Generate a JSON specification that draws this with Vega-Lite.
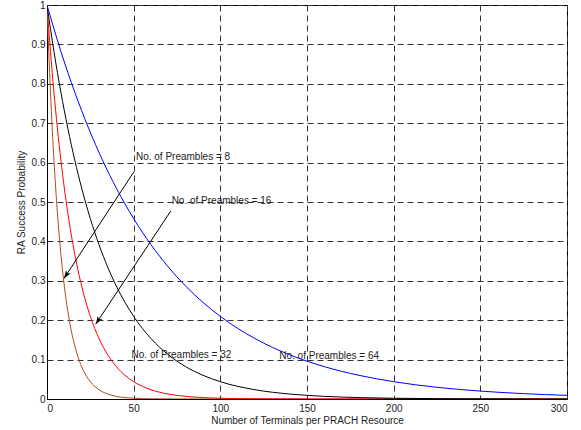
{
  "$schema": "https://vega.github.io/schema/vega-lite/v6.json",
  "width": 520,
  "height": 394,
  "autosize": {"type": "none"},
  "padding": {"left": 47, "top": 5, "right": 14, "bottom": 31},
  "background": "white",
  "config": {
    "font": "Liberation Sans",
    "view": {"stroke": "black", "strokeWidth": 1},
    "axis": {
      "labelFont": "Liberation Sans",
      "titleFont": "Liberation Sans",
      "labelFontSize": 10,
      "titleFontSize": 10,
      "titleFontWeight": "normal",
      "labelColor": "#222",
      "titleColor": "#222",
      "domainColor": "black",
      "ticks": false,
      "grid": true,
      "gridColor": "#333",
      "gridDash": [6, 4],
      "gridWidth": 1,
      "gridOpacity": 1,
      "labelOverlap": false
    }
  },
  "datasets": {
    "curves": [
      {"n": 0, "p": 1, "M": 8}, {"n": 1, "p": 0.8825, "M": 8}, {"n": 2, "p": 0.7788, "M": 8}, {"n": 3, "p": 0.6873, "M": 8},
      {"n": 4, "p": 0.6065, "M": 8}, {"n": 6, "p": 0.4724, "M": 8}, {"n": 8, "p": 0.3679, "M": 8}, {"n": 10, "p": 0.2865, "M": 8},
      {"n": 12, "p": 0.2231, "M": 8}, {"n": 15, "p": 0.1534, "M": 8}, {"n": 18, "p": 0.1054, "M": 8}, {"n": 21, "p": 0.0724, "M": 8},
      {"n": 25, "p": 0.0439, "M": 8}, {"n": 30, "p": 0.0235, "M": 8}, {"n": 35, "p": 0.0126, "M": 8}, {"n": 40, "p": 0.0067, "M": 8},
      {"n": 50, "p": 0.0019, "M": 8}, {"n": 60, "p": 0.00055, "M": 8}, {"n": 80, "p": 0.00005, "M": 8}, {"n": 100, "p": 0, "M": 8},
      {"n": 200, "p": 0, "M": 8}, {"n": 300, "p": 0, "M": 8},

      {"n": 0, "p": 1, "M": 16}, {"n": 2, "p": 0.8825, "M": 16}, {"n": 4, "p": 0.7788, "M": 16}, {"n": 6, "p": 0.6873, "M": 16},
      {"n": 8, "p": 0.6065, "M": 16}, {"n": 10, "p": 0.5353, "M": 16}, {"n": 12, "p": 0.4724, "M": 16}, {"n": 15, "p": 0.3916, "M": 16},
      {"n": 18, "p": 0.3247, "M": 16}, {"n": 21, "p": 0.2691, "M": 16}, {"n": 25, "p": 0.2096, "M": 16}, {"n": 30, "p": 0.1534, "M": 16},
      {"n": 35, "p": 0.1122, "M": 16}, {"n": 40, "p": 0.0821, "M": 16}, {"n": 45, "p": 0.0601, "M": 16}, {"n": 50, "p": 0.0439, "M": 16},
      {"n": 60, "p": 0.0235, "M": 16}, {"n": 70, "p": 0.0126, "M": 16}, {"n": 80, "p": 0.0067, "M": 16}, {"n": 90, "p": 0.0036, "M": 16},
      {"n": 100, "p": 0.0019, "M": 16}, {"n": 120, "p": 0.00055, "M": 16}, {"n": 150, "p": 0.00008, "M": 16}, {"n": 200, "p": 0, "M": 16},
      {"n": 300, "p": 0, "M": 16},

      {"n": 0, "p": 1, "M": 32}, {"n": 4, "p": 0.8825, "M": 32}, {"n": 8, "p": 0.7788, "M": 32}, {"n": 12, "p": 0.6873, "M": 32},
      {"n": 16, "p": 0.6065, "M": 32}, {"n": 20, "p": 0.5353, "M": 32}, {"n": 25, "p": 0.4578, "M": 32}, {"n": 30, "p": 0.3916, "M": 32},
      {"n": 35, "p": 0.335, "M": 32}, {"n": 40, "p": 0.2865, "M": 32}, {"n": 45, "p": 0.2451, "M": 32}, {"n": 50, "p": 0.2096, "M": 32},
      {"n": 60, "p": 0.1534, "M": 32}, {"n": 70, "p": 0.1122, "M": 32}, {"n": 80, "p": 0.0821, "M": 32}, {"n": 90, "p": 0.0601, "M": 32},
      {"n": 100, "p": 0.0439, "M": 32}, {"n": 120, "p": 0.0235, "M": 32}, {"n": 140, "p": 0.0126, "M": 32}, {"n": 160, "p": 0.0067, "M": 32},
      {"n": 180, "p": 0.0036, "M": 32}, {"n": 200, "p": 0.0019, "M": 32}, {"n": 250, "p": 0.0004, "M": 32}, {"n": 300, "p": 0.0001, "M": 32},

      {"n": 0, "p": 1, "M": 64}, {"n": 8, "p": 0.8825, "M": 64}, {"n": 16, "p": 0.7788, "M": 64}, {"n": 24, "p": 0.6873, "M": 64},
      {"n": 32, "p": 0.6065, "M": 64}, {"n": 40, "p": 0.5353, "M": 64}, {"n": 50, "p": 0.4578, "M": 64}, {"n": 60, "p": 0.3916, "M": 64},
      {"n": 70, "p": 0.335, "M": 64}, {"n": 80, "p": 0.2865, "M": 64}, {"n": 90, "p": 0.2451, "M": 64}, {"n": 100, "p": 0.2096, "M": 64},
      {"n": 120, "p": 0.1534, "M": 64}, {"n": 140, "p": 0.1122, "M": 64}, {"n": 160, "p": 0.0821, "M": 64}, {"n": 180, "p": 0.0601, "M": 64},
      {"n": 200, "p": 0.0439, "M": 64}, {"n": 225, "p": 0.0297, "M": 64}, {"n": 250, "p": 0.0201, "M": 64}, {"n": 275, "p": 0.0136, "M": 64},
      {"n": 300, "p": 0.0092, "M": 64}
    ],
    "arrows": [
      {"x0": 50.2, "y0": 0.577, "x1": 9.8, "y1": 0.306},
      {"x0": 71.4, "y0": 0.477, "x1": 28.1, "y1": 0.19}
    ],
    "labels": [
      {"x": 51.3, "y": 0.613, "text": "No. of Preambles = 8"},
      {"x": 71.9, "y": 0.503, "text": "No. of Preambles = 16"},
      {"x": 48.8, "y": 0.112, "text": "No. of Preambles = 32"},
      {"x": 134.0, "y": 0.108, "text": "No. of Preambles = 64"}
    ]
  },
  "layer": [
    {
      "data": {"name": "curves"},
      "mark": {"type": "line", "strokeWidth": 1, "interpolate": "monotone", "clip": true},
      "encoding": {
        "x": {
          "field": "n", "type": "quantitative",
          "scale": {"domain": [0, 300], "nice": false},
          "axis": {"values": [0, 50, 100, 150, 200, 250, 300], "title": "Number of Terminals per PRACH Resource", "labelPadding": 4, "titlePadding": 2, "format": "d"}
        },
        "y": {
          "field": "p", "type": "quantitative",
          "scale": {"domain": [0, 1], "nice": false},
          "axis": {"values": [0, 0.1, 0.2, 0.3, 0.4, 0.5, 0.6, 0.7, 0.8, 0.9, 1], "format": "~g", "title": "RA Success Probability", "labelPadding": 2, "titlePadding": 5}
        },
        "color": {
          "field": "M", "type": "nominal",
          "scale": {"domain": [8, 16, 32, 64], "range": ["#b04c14", "#ff0000", "#000000", "#0000ff"]},
          "legend": null
        },
        "detail": {"field": "M"}
      }
    },
    {
      "data": {"name": "arrows"},
      "mark": {"type": "rule", "color": "black", "strokeWidth": 1},
      "encoding": {
        "x": {"field": "x0", "type": "quantitative",
          "axis": {"values": [0, 50, 100, 150, 200, 250, 300], "title": "Number of Terminals per PRACH Resource", "labelPadding": 4, "titlePadding": 2, "format": "d"}},
        "y": {"field": "y0", "type": "quantitative",
          "axis": {"values": [0, 0.1, 0.2, 0.3, 0.4, 0.5, 0.6, 0.7, 0.8, 0.9, 1], "format": "~g", "title": "RA Success Probability", "labelPadding": 2, "titlePadding": 5}},
        "x2": {"field": "x1"},
        "y2": {"field": "y1"}
      }
    },
    {
      "data": {"name": "arrows"},
      "mark": {"type": "point", "shape": "M0,0L-0.35,1L0,0.75L0.35,1Z", "filled": true, "color": "black", "opacity": 1, "size": 256, "angle": 213.3},
      "encoding": {
        "x": {"field": "x1", "type": "quantitative",
          "axis": {"values": [0, 50, 100, 150, 200, 250, 300], "title": "Number of Terminals per PRACH Resource", "labelPadding": 4, "titlePadding": 2, "format": "d"}},
        "y": {"field": "y1", "type": "quantitative",
          "axis": {"values": [0, 0.1, 0.2, 0.3, 0.4, 0.5, 0.6, 0.7, 0.8, 0.9, 1], "format": "~g", "title": "RA Success Probability", "labelPadding": 2, "titlePadding": 5}}
      }
    },
    {
      "data": {"name": "labels"},
      "mark": {"type": "text", "align": "left", "baseline": "middle", "font": "Liberation Sans", "fontSize": 10, "color": "#222"},
      "encoding": {
        "x": {"field": "x", "type": "quantitative",
          "axis": {"values": [0, 50, 100, 150, 200, 250, 300], "title": "Number of Terminals per PRACH Resource", "labelPadding": 4, "titlePadding": 2, "format": "d"}},
        "y": {"field": "y", "type": "quantitative",
          "axis": {"values": [0, 0.1, 0.2, 0.3, 0.4, 0.5, 0.6, 0.7, 0.8, 0.9, 1], "format": "~g", "title": "RA Success Probability", "labelPadding": 2, "titlePadding": 5}},
        "text": {"field": "text"}
      }
    }
  ]
}
